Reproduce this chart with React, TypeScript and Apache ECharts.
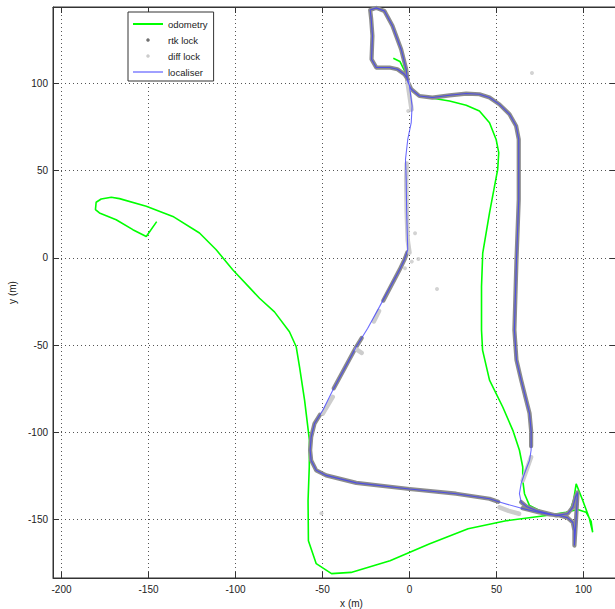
import React, { useEffect, useRef } from "react";
import * as echarts from "echarts";

type P = [number, number];

// axis limits (m)
const xLimits: P = [-204.9, 118.7];
const yLimits: P = [-183.5, 143.7];
const tickStep = 50;

// odometry (green), from the stub near the top loop to the hook on the left
const odometry: P[] = [
  [-9.3, 114.3], [-5.5, 112.5], [-2.6, 106.6], [0, 96.6], [5.7, 93.1], [13.4, 91.4],
  [23, 89.8], [32.6, 87.4], [40.2, 84.1], [46, 77.4], [49.8, 67.8], [51.3, 60.2],
  [50.7, 50.6], [46, 25.7], [42.1, 2.7], [41.4, -16.5], [41.4, -41.4], [42, -52.9],
  [46, -70.1], [53.6, -85.5], [59.4, -98.9], [63.2, -110.3], [65.1, -119.9],
  [65.1, -127.6], [66.1, -135.2], [69, -142], [78.6, -146.7], [86.2, -146.7],
  [92, -145.8], [94.3, -139.1], [95.8, -129.5], [99.6, -139.1], [103.4, -149.4],
  [105.3, -157.3], [104.4, -151.1], [101.5, -145.8], [96.6, -144.3], [89.9, -145.8],
  [78.7, -147.7], [56.2, -150.6], [33.7, -155.3], [11.3, -164], [-11.2, -173.6],
  [-33.6, -180.3], [-44.8, -181], [-53.6, -175.3], [-58.1, -162.1], [-58.3, -139.1],
  [-57.6, -119.9], [-57.5, -104.6], [-60.3, -81.6], [-63.2, -62.5], [-65.1, -51],
  [-69, -42.4], [-77.6, -31], [-86.2, -23.2], [-101.6, -6.9], [-111.1, 4.6],
  [-120.7, 14.2], [-136, 23.7], [-151.3, 29.5], [-166.7, 33.9], [-171.4, 34.7],
  [-177.2, 33.7], [-180.1, 31.8], [-180.5, 27.6], [-178.2, 25.7], [-168.6, 21.8],
  [-159, 16.1], [-151.3, 12.2], [-145.3, 20.7],
];

// localiser (blue), one closed circuit plus the reversing spur
const localiser: P[] = [
  [-1, 4.6], [-1.6, 25.7], [-1.9, 44.8], [-2.3, 56.3], [-1, 67.8], [1, 77.4], [1.5, 87],
  [0, 98.4], [-1, 102.3], [-2.9, 105.2], [-6.9, 108], [-11.5, 109], [-19.1, 109],
  [-21.8, 113.8], [-21.3, 127.2], [-22, 136.8], [-22.6, 142], [-19.1, 143.2],
  [-14.4, 141.4], [-9.8, 132.9], [-4.8, 119.5], [-1.9, 108], [-1.1, 101], [1, 96.6],
  [5.7, 92.7], [13.2, 91.8], [23, 93.1], [32.6, 94.1], [40.2, 93.7], [46, 91.8],
  [51.7, 87.9], [57.5, 82.2], [61.3, 75.5], [62.8, 67.8], [62.8, 33.3], [61.5, -1.1],
  [60.3, -41.4], [61.5, -58.6], [64.2, -70.1], [67.1, -81.6], [69, -89.1],
  [69.9, -98.9], [69.9, -110.3], [69, -116.1], [66.1, -123.6], [64.2, -129.3],
  [63.2, -135.1], [64.2, -140], [67.1, -142.5], [72.8, -144.8], [84.3, -147.7],
  [90.9, -146.7], [93.9, -142.9], [95.4, -137.1], [96.6, -134.5], [95.7, -150.6],
  [94.8, -164.9], [94.8, -156.3], [93.9, -151.7], [90.8, -148.9], [86.2, -147.7],
  [80.5, -147.1], [74.7, -146], [64.9, -143.7], [51.7, -140], [46, -138.1],
  [26.8, -135.2], [0, -132.5], [-30.6, -129], [-47.9, -124.7], [-53.6, -121.8],
  [-56.5, -116.1], [-57.1, -110.3], [-56.5, -102.7], [-54.6, -95], [-49.8, -87.4],
  [-44.1, -75.9], [-30.6, -51], [-24, -40.4], [-17.2, -28], [-5.7, -6.9],
  [-2.9, -1.1], [-1, 4.6],
];

// rtk lock stretches (dark grey)
const rtkLoopAndEast: P[] = [
  [-1, 102.3], [-2.9, 105.2], [-6.9, 108], [-11.5, 109], [-19.1, 109], [-21.8, 113.8],
  [-21.3, 127.2], [-22, 136.8], [-22.6, 142], [-19.1, 143.2], [-14.4, 141.4],
  [-9.8, 132.9], [-4.8, 119.5], [-1.9, 108], [-1.1, 101], [1, 96.6], [5.7, 92.7],
  [13.2, 91.8], [23, 93.1], [32.6, 94.1], [40.2, 93.7], [46, 91.8], [51.7, 87.9],
  [57.5, 82.2], [61.3, 75.5], [62.8, 67.8], [62.8, 33.3], [61.5, -1.1], [60.3, -41.4],
  [61.5, -58.6], [64.2, -70.1], [67.1, -81.6], [69, -89.1], [69.9, -98.9], [69.9, -108],
];
const rtkCorner: P[] = [
  [64.2, -140], [67.1, -142.5], [72.8, -144.8], [84.3, -147.7], [90.9, -146.7],
  [93.9, -142.9], [95.4, -137.1], [96.6, -134.5], [95.7, -150.6], [94.8, -164.9],
  [94.8, -156.3], [93.9, -151.7], [90.8, -148.9], [86.2, -147.7], [80.5, -147.1],
  [74.7, -146], [65, -143.5],
];
const rtkSouthRoad: P[] = [
  [51, -139.8], [46, -138.1], [26.8, -135.2], [0, -132.5], [-30.6, -129], [-47.9, -124.7],
  [-53.6, -121.8], [-56.5, -116.1], [-57.1, -110.3], [-56.5, -102.7], [-54.6, -95],
  [-51.5, -90],
];
const rtkDiagonalMid: P[] = [[-43.5, -74.8], [-30.6, -51], [-27.5, -46]];
const rtkDiagonalTop: P[] = [[-15, -24.5], [-5.7, -6.9], [-2.9, -1.1], [-1.3, 3]];

// diff lock stretches (light grey)
const diffNorthGap: P[] = [[1.2, 84.9], [-1.1, 100.4]];
const diffCentre: P[] = [[-1.6, 54], [-1.9, 44.8], [-1.6, 25.7], [-1, 10], [0, 3]];
const diffDiagA: P[] = [[-17.5, -30.5], [-20.5, -36.5]];
const diffDiagB: P[] = [[-30.5, -52.5], [-27.5, -54.5]];
const diffDiagC: P[] = [[-49.8, -89.3], [-44.1, -79.7]];
const diffEast: P[] = [[69.9, -114.2], [67.5, -121], [65.1, -127.6]];
const diffSouth: P[] = [[51.7, -143], [57, -145], [63, -146.7]];
const diffPoints: P[] = [
  [70.4, 105.9], [3.2, 14], [5.1, -0.7], [1.3, -2.2], [15.8, -17.9], [-0.7, 84.1],
  [-2.6, -6], [-50.6, -146.4],
];

function joinSegments(segs: P[][]): (P | null)[] {
  const out: (P | null)[] = [];
  segs.forEach((s, i) => {
    if (i > 0) out.push(null);
    s.forEach((p) => out.push(p));
  });
  return out;
}

const FONT = "Liberation Sans";
const stripIcon = "path://M0,0 L30,0 L30,2 L0,2 Z";

export default function App() {
  const ref = useRef<HTMLDivElement>(null);
  useEffect(() => {
    if (!ref.current) return;
    const chart = echarts.init(ref.current, undefined, { renderer: "svg" });
    const fmt = (v: number) => (Math.abs(v % tickStep) < 1e-6 ? String(v) : "");
    const tickStyle = { inside: true, length: 6, lineStyle: { color: "#333", width: 1 } };
    const gridLine = { show: true, lineStyle: { color: "#555", width: 1, type: [1, 3] as any } };
    const axisLine = { show: true, onZero: false, lineStyle: { color: "#333", width: 1 } };
    chart.setOption({
      animation: false,
      backgroundColor: "#fff",
      textStyle: { fontFamily: FONT },
      grid: {
        left: 53, top: 7, width: 563, height: 571, show: true, borderColor: "#333", borderWidth: 1,
        backgroundColor: "transparent", containLabel: false, outerBoundsMode: "none",
      },
      legend: {
        orient: "vertical",
        left: 128,
        top: 12,
        padding: [7, 6, 4, 5],
        itemGap: 6,
        itemWidth: 30,
        itemHeight: 3.5,
        borderColor: "#333",
        borderWidth: 1,
        backgroundColor: "#fff",
        selectedMode: false,
        textStyle: { fontSize: 9.5, color: "#222", fontFamily: FONT },
        data: [
          { name: "odometry", icon: stripIcon, itemStyle: { color: "#00ff00" } },
          { name: "rtk lock", icon: "circle", itemStyle: { color: "#707070" } },
          { name: "diff lock", icon: "circle", itemStyle: { color: "#cccccc" } },
          { name: "localiser", icon: stripIcon, itemStyle: { color: "#a0a0ff" } },
        ],
      },
      xAxis: [
        {
          type: "value", min: xLimits[0], max: xLimits[1], position: "bottom", splitNumber: 6,
          axisLine,
          axisTick: tickStyle,
          axisLabel: { formatter: fmt, color: "#222", fontSize: 10, fontFamily: FONT, margin: 6 },
          splitLine: gridLine,
          name: "x (m)", nameLocation: "middle", nameGap: 19,
          nameTextStyle: { color: "#222", fontSize: 10, fontFamily: FONT, padding: [0, 0, 0, 34] },
        },
        {
          type: "value", min: xLimits[0], max: xLimits[1], position: "top", splitNumber: 6,
          axisLine,
          axisTick: tickStyle, axisLabel: { show: false }, splitLine: { show: false },
        },
      ],
      yAxis: [
        {
          type: "value", min: yLimits[0], max: yLimits[1], position: "left", splitNumber: 6,
          axisLine,
          axisTick: tickStyle,
          axisLabel: { formatter: fmt, color: "#222", fontSize: 10, fontFamily: FONT, margin: 5 },
          splitLine: gridLine,
          name: "y (m)", nameLocation: "middle", nameGap: 31,
          nameTextStyle: { color: "#222", fontSize: 10, fontFamily: FONT },
        },
        {
          type: "value", min: yLimits[0], max: yLimits[1], position: "right", splitNumber: 6,
          axisLine,
          axisTick: tickStyle, axisLabel: { show: false }, splitLine: { show: false },
        },
      ],
      series: [
        {
          name: "odometry", type: "line", data: odometry, symbol: "none", showSymbol: false,
          lineStyle: { color: "#00ff00", width: 1.6 }, itemStyle: { color: "#00ff00" }, silent: true,
        },
        {
          name: "rtk lock", type: "line",
          data: joinSegments([rtkLoopAndEast, rtkCorner, rtkSouthRoad, rtkDiagonalMid, rtkDiagonalTop]),
          symbol: "none", showSymbol: false, connectNulls: false,
          lineStyle: { color: "#8c8c8c", width: 4.2, cap: "round", join: "round" },
          itemStyle: { color: "#707070" }, silent: true,
        },
        {
          name: "diff lock", type: "line",
          data: joinSegments([diffNorthGap, diffCentre, diffDiagA, diffDiagB, diffDiagC, diffEast, diffSouth]),
          symbol: "none", showSymbol: false, connectNulls: false,
          lineStyle: { color: "#cdcdcd", width: 4.5, cap: "round", join: "round" },
          itemStyle: { color: "#cccccc" }, silent: true,
        },
        {
          name: "diff lock", type: "scatter", data: diffPoints, symbolSize: 4,
          itemStyle: { color: "#c8c8c8" }, silent: true,
        },
        {
          name: "localiser", type: "line", data: localiser, symbol: "none", showSymbol: false,
          lineStyle: { color: "#3a3aff", width: 1.1, opacity: 0.75 }, itemStyle: { color: "#a0a0ff" }, silent: true,
        },
      ],
    });
    return () => chart.dispose();
  }, []);
  return <div ref={ref} style={{ position: "fixed", left: 0, top: 0, width: 615, height: 609 }} />;
}
